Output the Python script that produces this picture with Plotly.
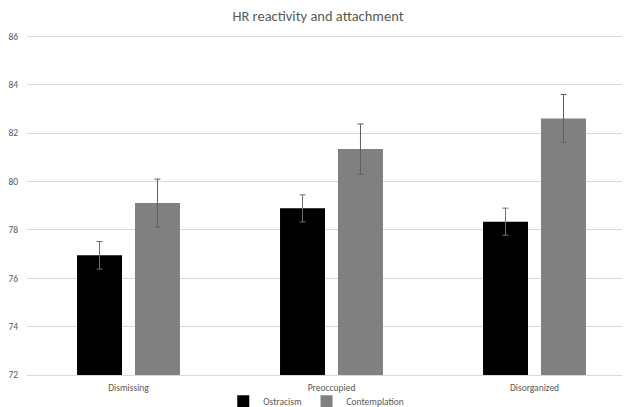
import plotly.graph_objects as go

categories = ["Dismissing", "Preoccupied", "Disorganized"]
series_names = ["Ostracism", "Contemplation"]
ostracism = [76.95, 78.89, 78.34]
ostracism_err = [0.57, 0.56, 0.56]
contemplation = [79.11, 81.34, 82.61]
contemplation_err = [0.99, 1.04, 0.99]
y_ticks = [72, 74, 76, 78, 80, 82, 84, 86]

FONT = "Calibri, Carlito, Lato, sans-serif"
TXT = "#595959"

fig = go.Figure()
fig.add_trace(go.Bar(
    name=series_names[0], x=categories, y=ostracism,
    marker=dict(color="#000000", line=dict(width=0)),
    error_y=dict(type="data", array=ostracism_err, color="#707070", thickness=1, width=3),
))
fig.add_trace(go.Bar(
    name=series_names[1], x=categories, y=contemplation,
    marker=dict(color="#808080", line=dict(width=0)),
    error_y=dict(type="data", array=contemplation_err, color="#5f5f5f", thickness=1, width=3),
))

fig.update_layout(
    width=630, height=407,
    paper_bgcolor="white", plot_bgcolor="white",
    margin=dict(l=19, r=2, t=26, b=40, autoexpand=False),
    barmode="group", bargap=0.429, bargroupgap=0.224,
    font=dict(family=FONT, color=TXT, size=9),
    title=dict(text="HR reactivity and attachment", x=0.492, xanchor="center",
               y=1 - 8 / 407, yanchor="middle", yref="container",
               font=dict(family=FONT, size=14.5, color=TXT)),
    showlegend=True,
    legend=dict(orientation="h", x=0.475, xanchor="center", y=-0.077, yanchor="middle",
                font=dict(family=FONT, size=9.5, color=TXT), itemwidth=30,
                traceorder="normal", bgcolor="rgba(0,0,0,0)"),
)
fig.update_yaxes(range=[72, 86.1], tickvals=y_ticks, showgrid=True, gridcolor="#d9d9d9",
                 gridwidth=1, zeroline=False, showline=False,
                 ticks="outside", ticklen=6, tickcolor="rgba(0,0,0,0)",
                 automargin=False,
                 tickfont=dict(family=FONT, size=9.5, color=TXT))
fig.update_xaxes(showgrid=False, showline=True, linecolor="#d9d9d9", linewidth=1,
                 ticks="", ticklabelstandoff=4, automargin=False,
                 tickfont=dict(family=FONT, size=9.5, color=TXT))

fig.write_html("out.html")
